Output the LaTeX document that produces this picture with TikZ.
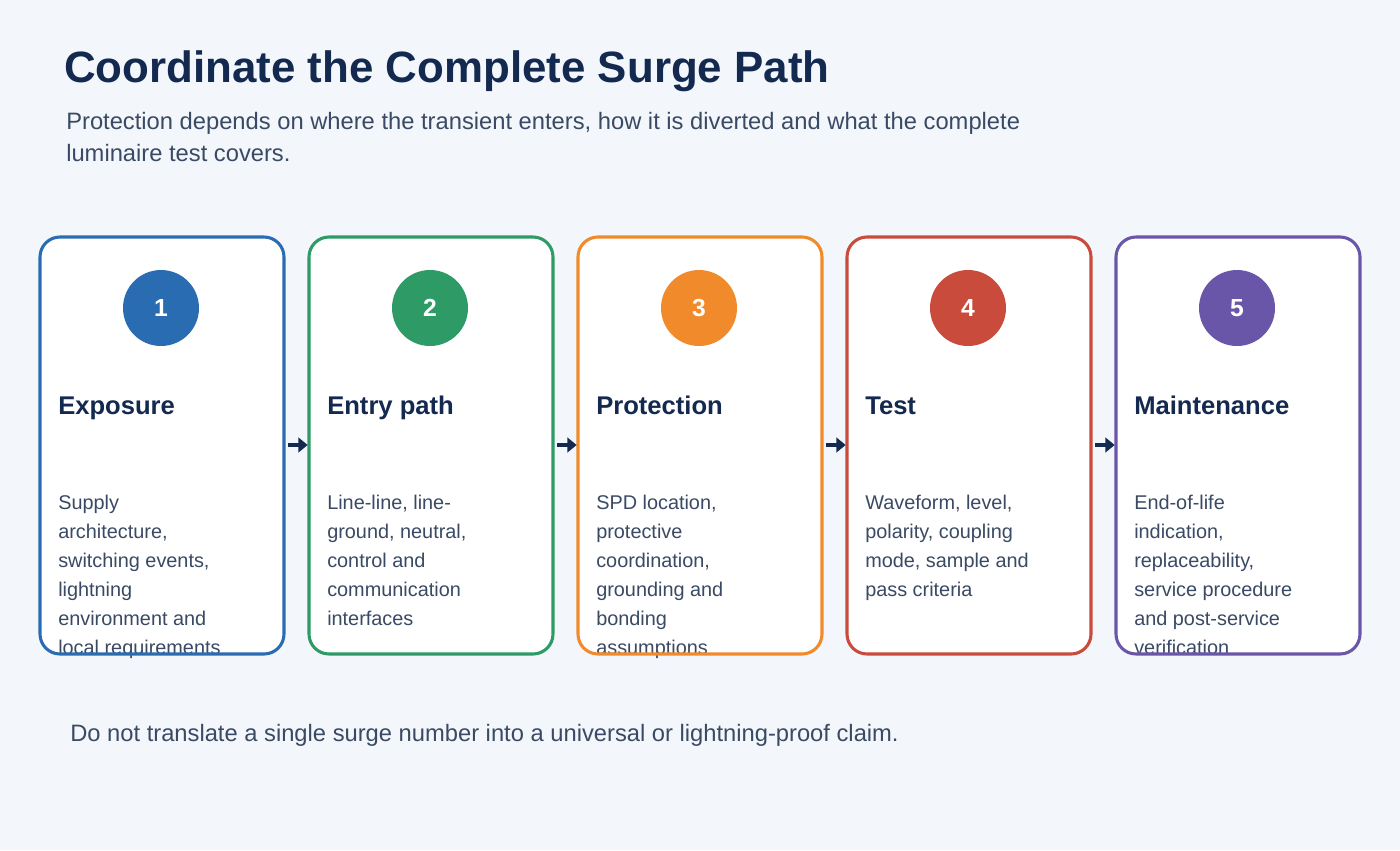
\documentclass[tikz,border=0pt]{standalone}
\usepackage{fontspec}
\setmainfont{Liberation Sans}
\usetikzlibrary{arrows.meta}
\definecolor{bg}{HTML}{F3F7FB}
\definecolor{navy}{HTML}{14294F}
\definecolor{txt}{HTML}{3A4A64}
\definecolor{cA}{HTML}{2A6CB2}
\definecolor{cB}{HTML}{2E9A66}
\definecolor{cC}{HTML}{F08A2A}
\definecolor{cD}{HTML}{C84B3C}
\definecolor{cE}{HTML}{6A56A8}
\newcommand{\toplines}[2]{\parbox[t]{#1}{\raggedright #2}}
\begin{document}
\begin{tikzpicture}[x=0.75pt,y=-0.75pt,
  card/.style={draw=#1,line width=2.3pt,rounded corners=15pt},
  num/.style={circle,fill=#1,minimum size=57pt,inner sep=0pt,text=white,font=\bfseries\fontsize{18.5}{20}\selectfont},
  head/.style={anchor=base west,inner sep=0pt,text=navy,font=\bfseries\fontsize{19.2}{22}\selectfont},
  body/.style={anchor=base west,inner sep=0pt,text=txt,font=\fontsize{14.9}{21.75}\selectfont},
  arr/.style={-{Triangle[length=7pt,width=11pt]},line width=3pt,draw=navy}]
\fill[bg] (0,0) rectangle (1400,850);
\useasboundingbox (0,0) rectangle (1400,850);
\node[anchor=base west,inner sep=0pt,text=navy,font=\bfseries\fontsize{32.9}{36}\selectfont] (title) at (64,82) {Coordinate the Complete Surge Path};
\node[anchor=base west,inner sep=0pt,text=txt,font=\fontsize{17.8}{24}\selectfont] (sub) at (66,129) {\toplines{800pt}{Protection depends on where the transient enters, how it is diverted and what the complete\\luminaire test covers.}};
\foreach \i/\x/\c/\n/\h/\b in {
 1/40/cA/1/Exposure/{Supply\\architecture,\\switching events,\\lightning\\environment and\\local requirements},
 2/309/cB/2/Entry path/{Line-line, line-\\ground, neutral,\\control and\\communication\\interfaces},
 3/578/cC/3/Protection/{SPD location,\\protective\\coordination,\\grounding and\\bonding\\assumptions},
 4/847/cD/4/Test/{Waveform, level,\\polarity, coupling\\mode, sample and\\pass criteria},
 5/1116/cE/5/Maintenance/{End-of-life\\indication,\\replaceability,\\service procedure\\and post-service\\verification}}{
  \fill[white,rounded corners=15pt] (\x,237) rectangle ++(244,417);
  \node[num=\c] (n\i) at (\x+121,308) {\n};
  \node[head] (h\i) at (\x+18,414) {\h};
  \node[body] (b\i) at (\x+18,509) {\toplines{170pt}{\b}};
  \draw[card=\c] (\x,237) rectangle ++(244,417) coordinate (e\i);
  \coordinate (L\i) at (\x,445);
  \coordinate (R\i) at (\x+244,445);
}
\foreach \a/\b in {1/2,2/3,3/4,4/5}{
  \draw[arr] ([xshift=3pt]R\a) -- ([xshift=-1pt]L\b);
}
\node[anchor=base west,inner sep=0pt,text=txt,font=\fontsize{17.8}{20}\selectfont] (foot) at (70,741) {Do not translate a single surge number into a universal or lightning-proof claim.};
\end{tikzpicture}
\end{document}
